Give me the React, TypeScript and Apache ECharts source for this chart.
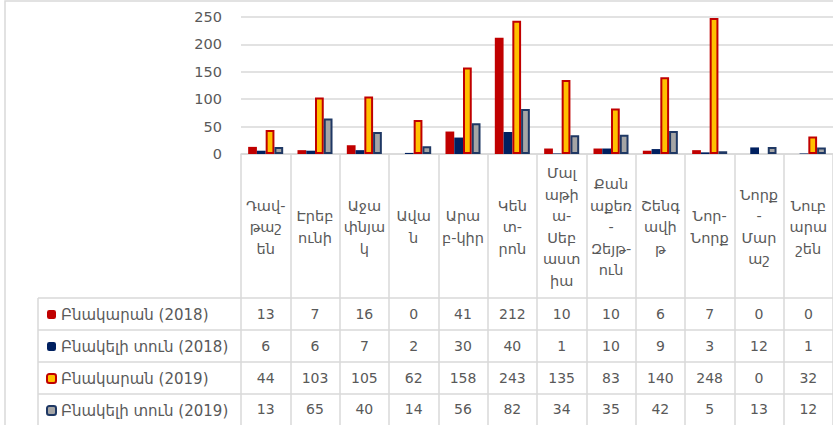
import React, { useEffect, useRef } from "react";
import * as echarts from "echarts";

const categories = [
  "Դավ-\nթաշ\nեն",
  "Էրեբ\nունի",
  "Աջա\nփնյա\nկ",
  "Ավա\nն",
  "Արա\nբ-կիր",
  "Կեն\nտ-\nրոն",
  "Մալ\nաթի\nա-\nՍեբ\nաստ\nիա",
  "Քան\nաքեռ\n-\nԶեյթ-\nուն",
  "Շենգ\nավի\nթ",
  "Նոր-\nՆորք",
  "Նորք\n-\nՄար\nաշ",
  "Նուբ\nարա\nշեն",
];

const seriesNames = [
  "Բնակարան (2018)",
  "Բնակելի տուն (2018)",
  "Բնակարան (2019)",
  "Բնակելի տուն (2019)",
];

const flats2018 = [13, 7, 16, 0, 41, 212, 10, 10, 6, 7, 0, 0];
const houses2018 = [6, 6, 7, 2, 30, 40, 1, 10, 9, 3, 12, 1];
const flats2019 = [44, 103, 105, 62, 158, 243, 135, 83, 140, 248, 0, 32];
const houses2019 = [13, 65, 40, 14, 56, 82, 34, 35, 42, 5, 13, 12];

const yTicks = [0, 50, 100, 150, 200, 250];

const FONT = "'DejaVu Sans', 'Noto Sans', sans-serif";
const TEXT = "#595959";
const LINE = "#d9d9d9";

export default function App() {
  const ref = useRef<HTMLDivElement>(null);
  useEffect(() => {
    if (!ref.current) return;
    const chart = echarts.init(ref.current, null, { renderer: "svg" });
    const allData = [flats2018, houses2018, flats2019, houses2019];
    const styles = [
      { color: "#c00000" },
      { color: "#002060" },
      { color: "#ffc000", borderColor: "#c00000", borderWidth: 2 },
      { color: "#a5a5a5", borderColor: "#1f3864", borderWidth: 2 },
    ];
    const rowY = [314, 346, 378, 409];
    chart.setOption({
      animation: false,
      textStyle: { fontFamily: FONT },
      grid: { left: 241, right: 0, top: 17, bottom: 271 },
      legend: {
        orient: "vertical",
        left: 46,
        top: rowY[0] - 7,
        height: 200,
        padding: 0,
        itemWidth: 9,
        itemHeight: 9,
        itemGap: 17,
        selectedMode: false,
        textStyle: { color: TEXT, fontSize: 15, lineHeight: 14, fontFamily: FONT },
        data: seriesNames,
      },
      xAxis: {
        type: "category",
        data: categories,
        axisLine: { show: true, lineStyle: { color: LINE, width: 1.5 } },
        axisTick: { show: true, interval: 0, length: 271, lineStyle: { color: LINE, width: 1.5 } },
        axisLabel: {
          interval: 0,
          color: TEXT,
          fontSize: 14.5,
          lineHeight: 21.5,
          fontFamily: FONT,
          margin: 73,
          verticalAlign: "middle",
        },
      },
      yAxis: {
        type: "value",
        min: yTicks[0],
        max: yTicks[yTicks.length - 1],
        interval: 50,
        axisLine: { show: false },
        axisTick: { show: false },
        axisLabel: { color: TEXT, fontSize: 14.5, margin: 19, fontFamily: FONT },
        splitLine: { lineStyle: { color: LINE, width: 1.5 } },
      },
      series: allData.map((d, i) => ({
        name: seriesNames[i],
        type: "bar",
        data: d.map((v) => (v === 0 ? { value: v, itemStyle: { borderWidth: 0 } } : v)),
        barGap: "0%",
        barCategoryGap: "29%",
        itemStyle: styles[i],
      })),
    });

    const graphics: any[] = [];
    graphics.push({
      type: "rect",
      silent: true,
      shape: { x: 5, y: 1, width: 900, height: 500 },
      style: { fill: "none", stroke: LINE, lineWidth: 1.5 },
    });
    [298, 330, 362, 394].forEach((y) => {
      graphics.push({
        type: "line",
        silent: true,
        shape: { x1: 38, y1: y, x2: 833, y2: y },
        style: { stroke: LINE, lineWidth: 1.5 },
      });
    });
    graphics.push({
      type: "line",
      silent: true,
      shape: { x1: 38, y1: 298, x2: 38, y2: 430 },
      style: { stroke: LINE, lineWidth: 1.5 },
    });
    allData.forEach((d, r) => {
      d.forEach((v, c) => {
        const px = chart.convertToPixel({ xAxisIndex: 0 }, c) as number;
        graphics.push({
          type: "text",
          silent: true,
          x: px,
          y: rowY[r],
          style: {
            text: String(v),
            textAlign: "center",
            textVerticalAlign: "middle",
            fill: TEXT,
            fontSize: 14,
            fontFamily: FONT,
          },
        });
      });
    });
    chart.setOption({ graphic: graphics });
    return () => chart.dispose();
  }, []);
  return (
    <div
      ref={ref}
      style={{ position: "absolute", left: 0, top: 0, width: 833, height: 425, background: "#fff" }}
    />
  );
}
